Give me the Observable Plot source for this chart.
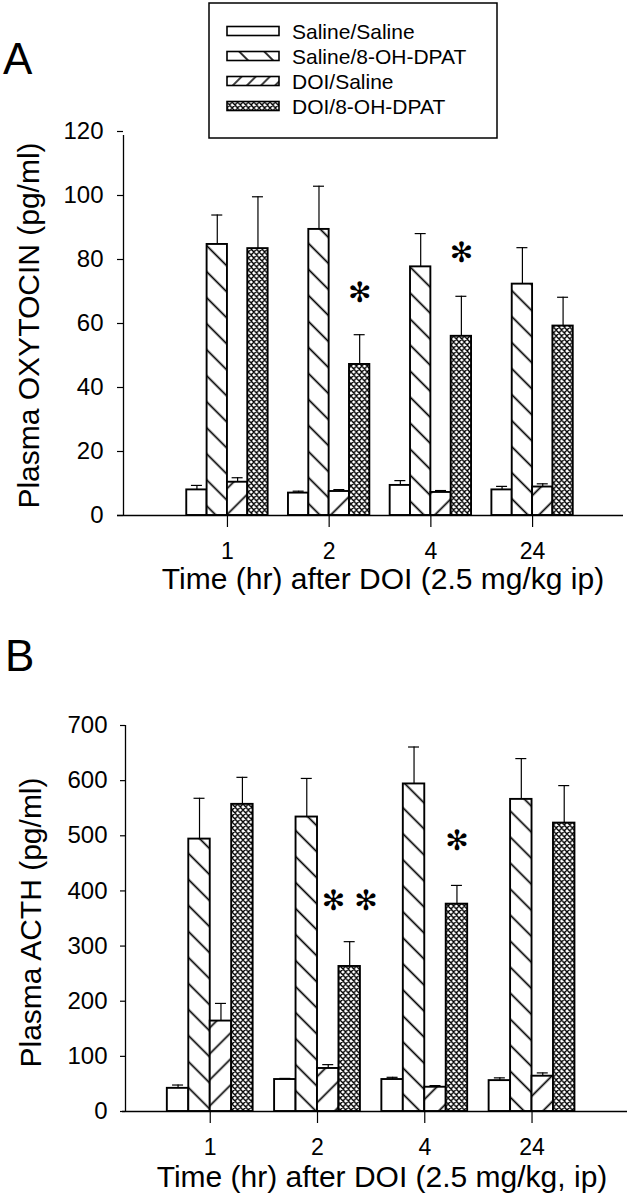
<!DOCTYPE html>
<html>
<head>
<meta charset="utf-8">
<script src="https://cdn.jsdelivr.net/npm/d3@7"></script>
<script src="https://cdn.jsdelivr.net/npm/@observablehq/plot@0.6"></script>
<style>
  body { margin: 0; background: #fff; }
  #page { position: relative; width: 630px; height: 1200px; overflow: hidden; background: #fff;
          font-family: "Liberation Sans", Arial, sans-serif; }
  .panel { position: absolute; left: 0; }
  #overlay { position: absolute; left: 0; top: 0; pointer-events: none; }
</style>
</head>
<body>
<div id="page">
  <svg id="defs" width="0" height="0" style="position:absolute;left:0;top:0">
    <defs>
      <pattern id="p-back" patternUnits="userSpaceOnUse" width="18.4" height="18.4" patternTransform="rotate(-45)">
        <rect width="18.4" height="18.4" fill="#fff"/>
        <line x1="9.2" y1="-1" x2="9.2" y2="20" stroke="#000" stroke-width="1.7"/>
      </pattern>
      <pattern id="p-fwd" patternUnits="userSpaceOnUse" width="18.4" height="18.4" patternTransform="rotate(45)">
        <rect width="18.4" height="18.4" fill="#fff"/>
        <line x1="9.2" y1="-1" x2="9.2" y2="20" stroke="#000" stroke-width="1.7"/>
      </pattern>
      <pattern id="p-cross" patternUnits="userSpaceOnUse" width="5.4" height="6">
        <rect width="5.4" height="6" fill="#fff"/>
        <path d="M0,0L5.4,6M5.4,0L0,6M-1,5L1,7M4.4,-1L6.4,1M-1,1L1,-1M4.4,7L6.4,5" stroke="#000" stroke-width="1.4" fill="none"/>
      </pattern>
      <pattern id="lp-back" patternUnits="userSpaceOnUse" width="17.7" height="17.7" patternTransform="rotate(-45)">
        <rect width="17.7" height="17.7" fill="#fff"/>
        <line x1="8.85" y1="-1" x2="8.85" y2="19" stroke="#000" stroke-width="1.6"/>
      </pattern>
      <pattern id="lp-fwd" patternUnits="userSpaceOnUse" width="10" height="10" patternTransform="rotate(45)">
        <rect width="10" height="10" fill="#fff"/>
        <line x1="5" y1="-1" x2="5" y2="11" stroke="#000" stroke-width="1.5"/>
      </pattern>
    </defs>
  </svg>
  <div id="panelA" class="panel" style="top:0px"></div>
  <div id="panelB" class="panel" style="top:600px"></div>
  <svg id="overlay" width="630" height="1200"></svg>
</div>
<script>
// ---------------- data ----------------
const times = ["1", "2", "4", "24"];
const groups = ["Saline/Saline", "Saline/8-OH-DPAT", "DOI/Saline", "DOI/8-OH-DPAT"];
const groupFills = ["#fff", "url(#p-back)", "url(#p-fwd)", "url(#p-cross)"];
const legendFills = ["#fff", "url(#lp-back)", "url(#lp-fwd)", "url(#p-cross)"];

// Panel A: plasma oxytocin (pg/ml), mean per time point
const oxySalineSaline = [8.0, 7.0, 9.4, 8.0];
const oxySaline8OH    = [84.7, 89.4, 77.7, 72.3];
const oxyDoiSaline    = [10.4, 7.5, 7.2, 8.9];
const oxyDoi8OH       = [83.4, 47.2, 56.0, 59.2];
// SEM
const oxySemSalineSaline = [1.4, 0.6, 1.5, 1.1];
const oxySemSaline8OH    = [9.2, 13.5, 10.4, 11.4];
const oxySemDoiSaline    = [1.4, 0.6, 0.6, 1.0];
const oxySemDoi8OH       = [16.2, 9.3, 12.5, 9.0];
const oxyStarTimes  = ["2", "4"];
const oxyStarValues = [69.5, 82];
const oxyStarLabels = ["✻", "✻"];
const oxyTicks = [0, 20, 40, 60, 80, 100, 120];

// Panel B: plasma ACTH (pg/ml)
const acthSalineSaline = [42, 58, 58, 56];
const acthSaline8OH    = [494, 534, 594, 566];
const acthDoiSaline    = [164, 78, 44, 64];
const acthDoi8OH       = [557, 263, 376, 523];
const acthSemSalineSaline = [6, 2, 4, 5];
const acthSemSaline8OH    = [74, 70, 67, 74];
const acthSemDoiSaline    = [32, 7, 3, 6];
const acthSemDoi8OH       = [49, 45, 34, 68];
const acthStarTimes  = ["2", "4"];
const acthStarValues = [381, 491];
const acthStarLabels = ["✻ ✻", "✻"];
const acthTicks = [0, 100, 200, 300, 400, 500, 600, 700];

const labelA = "Plasma OXYTOCIN (pg/ml)";
const labelB = "Plasma ACTH (pg/ml)";
const xTitleA = "Time (hr) after DOI (2.5 mg/kg ip)";
const xTitleB = "Time (hr) after DOI (2.5 mg/kg, ip)";

// ---------------- build ----------------
function buildRows(values, sems) {
  const out = [];
  times.forEach((t, gi) => groups.forEach((g, si) => {
    out.push({time: t, group: g, gi, si, value: values[si][gi], sem: sems[si][gi], fill: groupFills[si]});
  }));
  return out;
}
const bw = 0.8 / groups.length;
const x1 = d => d.gi - 0.4 + d.si * bw;
const x2 = d => x1(d) + bw;
const xc = d => x1(d) + bw / 2;
const starSeries = groups.indexOf("DOI/8-OH-DPAT");

function panel(cfg) {
  const data = buildRows(cfg.values, cfg.sems);
  const stars = cfg.starTimes.map((t, i) => ({gi: times.indexOf(t), si: starSeries, value: cfg.starValues[i], label: cfg.starLabels[i]}));
  return Plot.plot({
    width: 630, height: 600,
    marginTop: cfg.mt, marginBottom: cfg.mb, marginLeft: cfg.ml, marginRight: cfg.mr,
    style: {fontFamily: '"Liberation Sans", Arial, sans-serif', background: "white", color: "black"},
    x: {domain: cfg.xDomain},
    y: {domain: [0, cfg.ticks[cfg.ticks.length - 1]]},
    color: {type: "identity"},
    marks: [
      Plot.rect(data, {x1, x2, y1: 0, y2: "value", fill: "fill", stroke: "black", strokeWidth: 1.9}),
      Plot.ruleX(data, {x: xc, y1: "value", y2: d => d.value + d.sem, stroke: "black", strokeWidth: 1.2}),
      Plot.ruleY(data, {y: d => d.value + d.sem, x1: xc, x2: xc, insetLeft: -5.5, insetRight: -5.5, stroke: "black", strokeWidth: 1.2}),
      Plot.ruleX([cfg.xDomain[0]], {x: d => d, y1: 0, y2: cfg.ticks[cfg.ticks.length - 1], insetBottom: -cfg.yExt, stroke: "black", strokeWidth: 1.3}),
      Plot.ruleY([0], {insetLeft: -cfg.xExt, stroke: "black", strokeWidth: 1.3}),
      Plot.axisY({ticks: cfg.ticks, tickSize: cfg.yTickSize, tickPadding: cfg.yTickPad, fontSize: 24, label: null, strokeWidth: 1.2}),
      Plot.axisX({ticks: times.map((t, i) => i), tickFormat: i => times[i], tickSize: 12, tickPadding: 15, fontSize: 23, label: null, strokeWidth: 1.2}),
      Plot.text(stars, {x: xc, y: "value", text: "label", fontSize: 28, fontFamily: "DejaVu Sans", lineAnchor: "middle", fill: "black"}),
      Plot.text([cfg.xTitle], {text: d => d, frameAnchor: "bottom", textAnchor: "middle", dy: cfg.xTitleDy, dx: cfg.xTitleDx, fontSize: 30, lineAnchor: "middle", fill: "black"}),
      Plot.text([cfg.yTitle], {text: d => d, frameAnchor: "left", textAnchor: "middle", rotate: -90, dx: cfg.yTitleDx, dy: cfg.yTitleDy, fontSize: 30, lineAnchor: "middle", fill: "black"})
    ]
  });
}

document.getElementById("panelA").appendChild(panel({
  values: [oxySalineSaline, oxySaline8OH, oxyDoiSaline, oxyDoi8OH],
  sems: [oxySemSalineSaline, oxySemSaline8OH, oxySemDoiSaline, oxySemDoi8OH],
  starTimes: oxyStarTimes, starValues: oxyStarValues, starLabels: oxyStarLabels,
  ticks: oxyTicks, xDomain: [-1.022, 3.894],
  mt: 131, mb: 85, ml: 123, mr: 7, yExt: 4, xExt: 6, yTickSize: 6, yTickPad: 14,
  xTitle: xTitleA, xTitleDy: 64, xTitleDx: 9.5,
  yTitle: labelA, yTitleDx: -94, yTitleDy: 2
}));

document.getElementById("panelB").appendChild(panel({
  values: [acthSalineSaline, acthSaline8OH, acthDoiSaline, acthDoi8OH],
  sems: [acthSemSalineSaline, acthSemSaline8OH, acthSemDoiSaline, acthSemDoi8OH],
  starTimes: acthStarTimes, starValues: acthStarValues, starLabels: acthStarLabels,
  ticks: acthTicks, xDomain: [-0.79, 3.89],
  mt: 125, mb: 89, ml: 125, mr: 3, yExt: 0, xExt: 3, yTickSize: 5, yTickPad: 13,
  xTitle: xTitleB, xTitleDy: 66, xTitleDx: 5.5,
  yTitle: labelB, yTitleDx: -94, yTitleDy: 4
}));

// ---------------- overlay: panel letters + legend ----------------
const ov = d3.select("#overlay");
ov.append("text").attr("x", 3).attr("y", 74).attr("font-size", 44)
  .attr("font-family", '"Liberation Sans", Arial, sans-serif').text("A");
ov.append("text").attr("x", 5).attr("y", 671).attr("font-size", 44)
  .attr("font-family", '"Liberation Sans", Arial, sans-serif').text("B");

const lg = ov.append("g");
lg.append("rect").attr("x", 209).attr("y", 3).attr("width", 288).attr("height", 135)
  .attr("fill", "#fff").attr("stroke", "#000").attr("stroke-width", 1.5);
groups.forEach((g, i) => {
  const cy = 31 + i * 25;
  lg.append("rect").attr("x", 227).attr("y", cy - 4.5).attr("width", 52).attr("height", 9)
    .attr("fill", legendFills[i]).attr("stroke", "#000").attr("stroke-width", 1.6);
  lg.append("text").attr("x", 292).attr("y", cy).attr("dy", "0.36em").attr("font-size", 21)
    .attr("font-family", '"Liberation Sans", Arial, sans-serif').text(g);
});
</script>
</body>
</html>
